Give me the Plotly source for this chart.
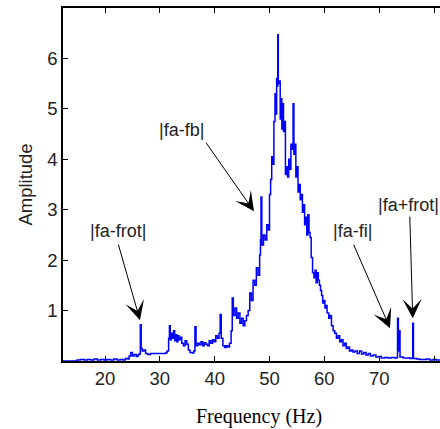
import plotly.graph_objects as go

# Amplitude spectrum of the vibration signal
freq_hz = [
    12.3, 14.8, 14.9, 15.5, 16.2, 16.8, 17.4, 18.0, 18.6, 19.2, 19.8, 20.4, 21.0, 21.6,
    22.2, 22.8, 23.3, 23.7, 24.1, 24.4, 24.7, 25.0, 25.3, 25.7, 26.0, 26.2, 26.44, 26.6,
    26.8, 27.1, 27.4, 27.8, 28.3, 29.0, 29.7, 30.4, 31.0, 31.3, 31.6, 31.75, 31.9, 32.1,
    32.3, 32.5, 32.7, 32.9, 33.1, 33.3, 33.5, 33.8, 34.0, 34.3, 34.6, 34.9, 35.2, 35.5,
    35.9, 36.2, 36.4, 36.6, 36.9, 37.2, 37.5, 37.8, 38.1, 38.4, 38.7, 39.0, 39.3, 39.6,
    39.9, 40.2, 40.5, 40.8, 41.0, 41.2, 41.5, 41.8, 42.1, 42.4, 42.7, 43.0, 43.2, 43.4,
    43.7, 44.0, 44.3, 44.6, 44.9, 45.2, 45.5, 45.8, 46.1, 46.4, 46.7, 47.0, 47.3, 47.6,
    47.9, 48.2, 48.35, 48.45, 48.6, 48.9, 49.2, 49.5, 49.8, 50.0, 50.2, 50.4, 50.6, 50.8,
    51.0, 51.15, 51.3, 51.4, 51.5, 51.6, 51.8, 51.95, 52.1, 52.25, 52.4, 52.55, 52.7,
    52.9, 53.1, 53.3, 53.5, 53.7, 53.9, 54.1, 54.3, 54.45, 54.6, 54.8, 55.0, 55.2, 55.4,
    55.6, 55.8, 56.0, 56.2, 56.4, 56.6, 56.8, 57.0, 57.2, 57.4, 57.6, 57.85, 58.1, 58.3,
    58.5, 58.7, 58.9, 59.1, 59.3, 59.5, 59.7, 59.9, 60.1, 60.3, 60.5, 60.8, 61.0, 61.3,
    61.6, 61.9, 62.2, 62.5, 62.8, 63.1, 63.4, 63.7, 64.0, 64.3, 64.6, 64.9, 65.2, 65.6,
    66.0, 66.4, 66.8, 67.2, 67.6, 68.0, 68.4, 68.9, 69.4, 69.9, 70.4, 71.0, 71.6, 72.2,
    72.8, 73.2, 73.35, 73.5, 73.62, 73.8, 74.4, 75.0, 75.6, 76.0, 76.12, 76.25, 76.8,
    77.4, 78.0, 78.6, 79.2, 79.8, 80.4, 81.2,
]
amplitude = [
    0.0, 0.0, 0.02, 0.03, 0.02, 0.03, 0.02, 0.04, 0.02, 0.03, 0.02, 0.03, 0.02, 0.04,
    0.02, 0.03, 0.02, 0.05, 0.04, 0.1, 0.17, 0.1, 0.13, 0.09, 0.12, 0.14, 0.72, 0.25,
    0.2, 0.22, 0.15, 0.13, 0.15, 0.15, 0.15, 0.15, 0.16, 0.2, 0.45, 0.7, 0.42, 0.55,
    0.45, 0.6, 0.4, 0.52, 0.38, 0.5, 0.42, 0.47, 0.35, 0.3, 0.4, 0.33, 0.22, 0.17,
    0.16, 0.2, 0.68, 0.3, 0.35, 0.32, 0.38, 0.3, 0.36, 0.33, 0.3, 0.4, 0.35, 0.42,
    0.38, 0.5, 0.45, 0.55, 0.92, 0.45, 0.3, 0.27, 0.3, 0.28, 0.35, 0.6, 1.25, 0.9,
    1.05, 0.85, 0.95, 0.75, 0.85, 0.7, 0.8, 0.9, 1.0, 1.35, 1.2, 1.6, 1.5, 1.85,
    1.7, 2.1, 2.4, 3.25, 2.3, 2.5, 2.4, 2.7, 2.6, 3.3, 3.6, 4.05, 3.9, 4.75,
    5.3, 4.9, 5.6, 5.45, 6.47, 5.5, 5.55, 4.8, 5.2, 4.6, 5.1, 4.55, 4.75,
    3.7, 3.85, 3.65, 4.0, 3.8, 4.3, 4.2, 5.1, 4.1, 4.3, 3.65, 3.85, 3.35, 3.5,
    3.2, 3.3, 2.95, 3.1, 2.7, 2.85, 2.5, 2.9, 2.55, 2.45, 2.05, 1.75, 1.65, 1.8,
    1.55, 1.75, 1.6, 1.5, 1.4, 1.3, 1.15, 1.2, 1.05, 1.1, 0.95, 0.85, 0.9, 0.7,
    0.6, 0.55, 0.45, 0.5, 0.38, 0.42, 0.3, 0.35, 0.25, 0.28, 0.2, 0.22, 0.18, 0.2,
    0.15, 0.2, 0.14, 0.17, 0.12, 0.15, 0.1, 0.12, 0.08, 0.09, 0.06, 0.07, 0.06, 0.07,
    0.06, 0.07, 0.85, 0.2, 0.6, 0.08, 0.06, 0.06, 0.05, 0.06, 0.75, 0.05, 0.04,
    0.03, 0.03, 0.04, 0.02, 0.03, 0.02, 0.03,
]

x_ticks = [20, 30, 40, 50, 60, 70, 80]
y_ticks = [1, 2, 3, 4, 5, 6]

# Labelled sidebands: text, text position, arrow tip, arrow tail offset (px)
labels = ["|fa-frot|", "|fa-fb|", "|fa-fi|", "|fa+frot|"]
label_pos = [(22.4, 2.57), (33.9, 4.58), (65.1, 2.57), (75.4, 3.09)]
arrow_tip = [(26.38, 0.81), (47.17, 2.97), (71.98, 0.65), (76.12, 0.85)]
arrow_tail = [(-22, -77), (-49, -70), (-37, -85), (-3, -103)]

sans = "Liberation Sans"
serif = "Liberation Serif"

fig = go.Figure()
fig.add_trace(go.Scatter(
    x=freq_hz, y=amplitude, mode="lines",
    line=dict(color="#0000ff", width=1.5, shape="hv"),
    showlegend=False, hoverinfo="skip",
))

for (tx, ty), (ax, ay) in zip(arrow_tip, arrow_tail):
    fig.add_annotation(
        x=tx, y=ty, xref="x", yref="y", ax=ax, ay=ay,
        text="", showarrow=True, arrowhead=3, arrowsize=3.2,
        arrowwidth=1, arrowcolor="#000000", standoff=0, startstandoff=0,
    )

for text, (lx, ly) in zip(labels, label_pos):
    fig.add_annotation(
        x=lx, y=ly, xref="x", yref="y", text=text, showarrow=False,
        font=dict(family=sans, size=18, color="#222222"),
        xanchor="center", yanchor="middle",
    )

# x-axis title set in a serif face, placed below the tick labels
fig.add_annotation(
    x=0.52, y=-0.158, xref="paper", yref="paper",
    text="<span style='font-family:Liberation Serif,DejaVu Serif,serif'>Frequency (Hz)</span>",
    showarrow=False, xanchor="center", yanchor="middle",
    font=dict(family=serif, size=20, color="#000000"),
)

fig.update_layout(
    width=440, height=429,
    margin=dict(l=63, r=0, t=8, b=68),
    paper_bgcolor="white", plot_bgcolor="white",
    xaxis=dict(
        range=[12.34, 81.09], tickvals=x_ticks, ticktext=[str(v) for v in x_ticks],
        ticks="inside", ticklen=5, tickwidth=1, tickcolor="#000000",
        showline=True, linecolor="#000000", linewidth=1.5, mirror="ticks",
        showgrid=False, zeroline=False,
        tickfont=dict(family=sans, size=18.5, color="#222222"),
    ),
    yaxis=dict(
        range=[0, 7], tickvals=y_ticks, ticktext=[str(v) for v in y_ticks],
        ticks="inside", ticklen=5, tickwidth=1, tickcolor="#000000",
        showline=True, linecolor="#000000", linewidth=1.5,
        showgrid=False, zeroline=False,
        tickfont=dict(family=sans, size=18.5, color="#222222"),
        title=dict(text="Amplitude", font=dict(family=sans, size=18.5, color="#222222"),
                   standoff=10),
    ),
)

fig.write_html("out.html")
